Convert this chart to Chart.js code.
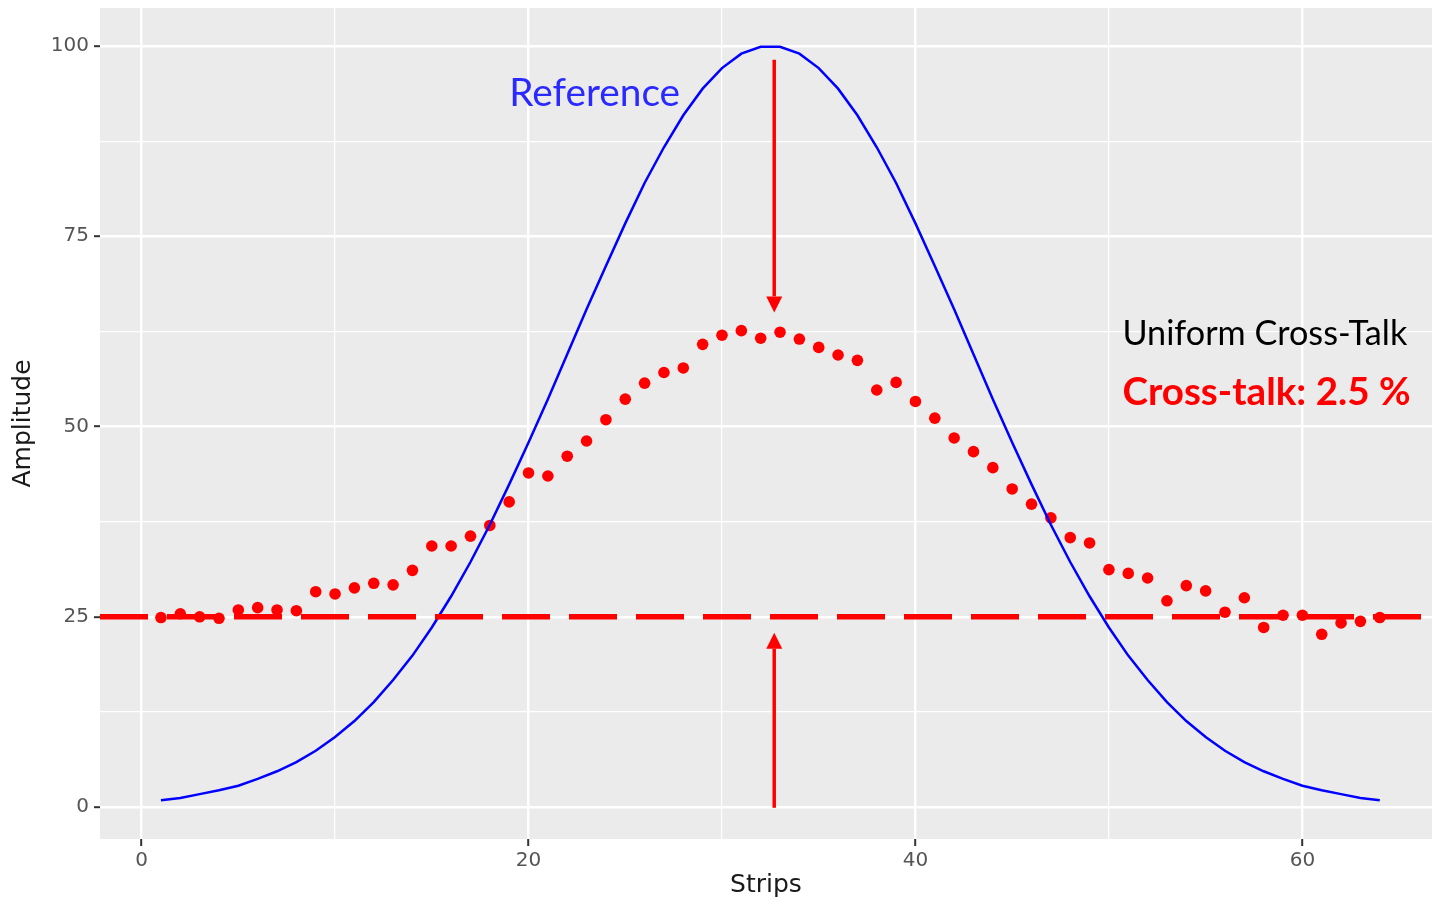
<!DOCTYPE html>
<html>
<head>
<meta charset="utf-8">
<script src="https://cdn.jsdelivr.net/npm/chart.js@4"></script>
<style>
  body { margin: 0; background: #fff; }
</style>
</head>
<body>
<canvas id="myChart" width="1432" height="904"></canvas>
<script>
// strips 1..64
const strips = [1, 2, 3, 4, 5, 6, 7, 8, 9, 10, 11, 12, 13, 14, 15, 16,
  17, 18, 19, 20, 21, 22, 23, 24, 25, 26, 27, 28, 29, 30, 31, 32,
  33, 34, 35, 36, 37, 38, 39, 40, 41, 42, 43, 44, 45, 46, 47, 48,
  49, 50, 51, 52, 53, 54, 55, 56, 57, 58, 59, 60, 61, 62, 63, 64];

// blue reference curve
const referenceAmp = [0.9, 1.2, 1.7, 2.2, 2.8, 3.7, 4.7, 5.9, 7.4, 9.2, 11.3, 13.8,
  16.7, 19.9, 23.6, 27.7, 32.2, 37.1, 42.4, 47.9, 53.6, 59.5, 65.4, 71.1,
  76.7, 82.0, 86.7, 90.9, 94.4, 97.1, 99.0, 99.9, 99.9, 99.0, 97.1, 94.4,
  90.9, 86.7, 82.0, 76.7, 71.1, 65.4, 59.5, 53.6, 47.9, 42.4, 37.1, 32.2,
  27.7, 23.6, 19.9, 16.7, 13.8, 11.3, 9.2, 7.4, 5.9, 4.7, 3.7, 2.8,
  2.2, 1.7, 1.2, 0.9];

// red measured points (with cross-talk)
const measuredAmp = [24.9, 25.4, 25.0, 24.8, 25.9, 26.2, 25.9, 25.8, 28.3, 28.0, 28.8, 29.4,
  29.2, 31.1, 34.3, 34.3, 35.6, 37.0, 40.1, 43.9, 43.5, 46.1, 48.1, 50.9,
  53.6, 55.7, 57.1, 57.7, 60.8, 62.0, 62.6, 61.6, 62.4, 61.5, 60.4, 59.4,
  58.7, 54.8, 55.8, 53.3, 51.1, 48.5, 46.7, 44.6, 41.8, 39.8, 38.0, 35.4,
  34.7, 31.2, 30.7, 30.1, 27.1, 29.1, 28.4, 25.6, 27.5, 23.6, 25.2, 25.2,
  22.7, 24.2, 24.4, 24.9];

const baselineLevel = 25;
const xTicks = [0, 20, 40, 60];
const yTicks = [0, 25, 50, 75, 100];
const xMinor = [10, 30, 50];
const yMinor = [12.5, 37.5, 62.5, 87.5];

const panelBg = {
  id: 'panelBg',
  beforeDraw(chart) {
    const { ctx, chartArea: a } = chart;
    ctx.save();
    ctx.fillStyle = '#ebebeb';
    ctx.fillRect(a.left, a.top, a.right - a.left, a.bottom - a.top);
    ctx.restore();
  }
};

function arrow(ctx, x, y0, y1) {
  const head = 16, half = 8;
  const dir = y1 > y0 ? 1 : -1;
  ctx.beginPath();
  ctx.moveTo(x, y0);
  ctx.lineTo(x, y1 - dir * head);
  ctx.stroke();
  ctx.beginPath();
  ctx.moveTo(x, y1);
  ctx.lineTo(x - half, y1 - dir * head);
  ctx.lineTo(x + half, y1 - dir * head);
  ctx.closePath();
  ctx.fill();
}

function fitText(ctx, text, weight, family, width) {
  ctx.font = weight + ' 100px ' + family;
  const size = 100 * width / ctx.measureText(text).width;
  ctx.font = weight + ' ' + size.toFixed(1) + 'px ' + family;
}

const notes = {
  id: 'notes',
  afterDatasetsDraw(chart) {
    const { ctx, chartArea: a } = chart;
    const xs = chart.scales.x, ys = chart.scales.y;
    ctx.save();
    // dashed level line
    ctx.strokeStyle = '#ff0000';
    ctx.lineWidth = 5.5;
    ctx.setLineDash([48, 19]);
    const yl = ys.getPixelForValue(baselineLevel);
    ctx.beginPath();
    ctx.moveTo(a.left, yl);
    ctx.lineTo(a.right, yl);
    ctx.stroke();
    ctx.setLineDash([]);

    // arrows
    ctx.fillStyle = '#ff0000';
    ctx.lineWidth = 3.5;
    const xa = xs.getPixelForValue(32.7);
    arrow(ctx, xa, ys.getPixelForValue(98.2), ys.getPixelForValue(65.0));
    arrow(ctx, xa, ys.getPixelForValue(-0.1), ys.getPixelForValue(22.9));

    // labels
    ctx.textBaseline = 'middle';
    ctx.textAlign = 'left';
    fitText(ctx, 'Reference', 'normal', 'Lato', 171);
    ctx.fillStyle = '#2a2aff';
    ctx.fillText('Reference', xs.getPixelForValue(19.0), ys.getPixelForValue(93.7));
    fitText(ctx, 'Uniform Cross-Talk', 'normal', 'Lato', 285);
    ctx.fillStyle = '#000';
    ctx.fillText('Uniform Cross-Talk', xs.getPixelForValue(50.7), ys.getPixelForValue(62.1));
    fitText(ctx, 'Cross-talk: 2.5 %', 'bold', 'Lato', 288);
    ctx.fillStyle = '#ff0000';
    ctx.fillText('Cross-talk: 2.5 %', xs.getPixelForValue(50.7), ys.getPixelForValue(54.4));
    ctx.restore();
  }
};

const config = {
  type: 'scatter',
  data: {
    datasets: [{
      type: 'line',
      label: 'Reference',
      data: strips.map((s, i) => ({ x: s, y: referenceAmp[i] })),
      borderColor: '#0000ff',
      borderWidth: 2.5,
      pointRadius: 0,
      tension: 0,
      fill: false
    }, {
      label: 'Cross-talk',
      data: strips.map((s, i) => ({ x: s, y: measuredAmp[i] })),
      backgroundColor: '#ff0000',
      borderWidth: 0,
      pointRadius: 5.8
    }]
  },
  options: {
    responsive: false,
    animation: false,
    layout: { autoPadding: false, padding: { top: 8, right: 0, bottom: 0, left: 0 } },
    plugins: {
      legend: { display: false },
      tooltip: { enabled: false }
    },
    scales: {
      x: {
        type: 'linear',
        min: -2.15,
        max: 66.7,
        afterFit(scale) {
          scale.height = 65;
          scale.paddingLeft = 0;
          scale.paddingRight = 0;
        },
        afterBuildTicks(scale) {
          scale.ticks = xTicks.concat(xMinor).sort((a, b) => a - b).map(v => ({ value: v }));
        },
        border: { display: false },
        grid: {
          color: '#ffffff',
          lineWidth: c => xTicks.includes(c.tick.value) ? 2.4 : 1.2,
          tickColor: c => xTicks.includes(c.tick.value) ? '#333333' : 'rgba(0,0,0,0)',
          tickLength: 7,
          tickWidth: 2
        },
        ticks: {
          autoSkip: false,
          maxRotation: 0,
          padding: 3,
          color: '#555555',
          font: { family: 'DejaVu Sans', size: 20 },
          callback: v => xTicks.includes(v) ? String(v) : ''
        },
        title: {
          display: true,
          text: 'Strips',
          color: '#1a1a1a',
          font: { family: 'DejaVu Sans', size: 25 },
          padding: { top: 0, bottom: 4 }
        }
      },
      y: {
        type: 'linear',
        min: -4.2,
        max: 105,
        afterFit(scale) {
          scale.width = 100;
          scale.paddingTop = 0;
          scale.paddingBottom = 0;
        },
        afterBuildTicks(scale) {
          scale.ticks = yTicks.concat(yMinor).sort((a, b) => a - b).map(v => ({ value: v }));
        },
        border: { display: false },
        grid: {
          color: '#ffffff',
          lineWidth: c => yTicks.includes(c.tick.value) ? 2.4 : 1.2,
          tickColor: c => yTicks.includes(c.tick.value) ? '#333333' : 'rgba(0,0,0,0)',
          tickLength: 6,
          tickWidth: 2
        },
        ticks: {
          autoSkip: false,
          padding: 5,
          color: '#555555',
          font: { family: 'DejaVu Sans', size: 20 },
          callback: v => yTicks.includes(v) ? String(v) : ''
        },
        title: {
          display: true,
          text: 'Amplitude',
          color: '#1a1a1a',
          font: { family: 'DejaVu Sans', size: 25 },
          padding: { top: 8, bottom: 0 }
        }
      }
    }
  },
  plugins: [panelBg, notes]
};

const myChart = new Chart(document.getElementById('myChart'), config);
</script>
</body>
</html>
